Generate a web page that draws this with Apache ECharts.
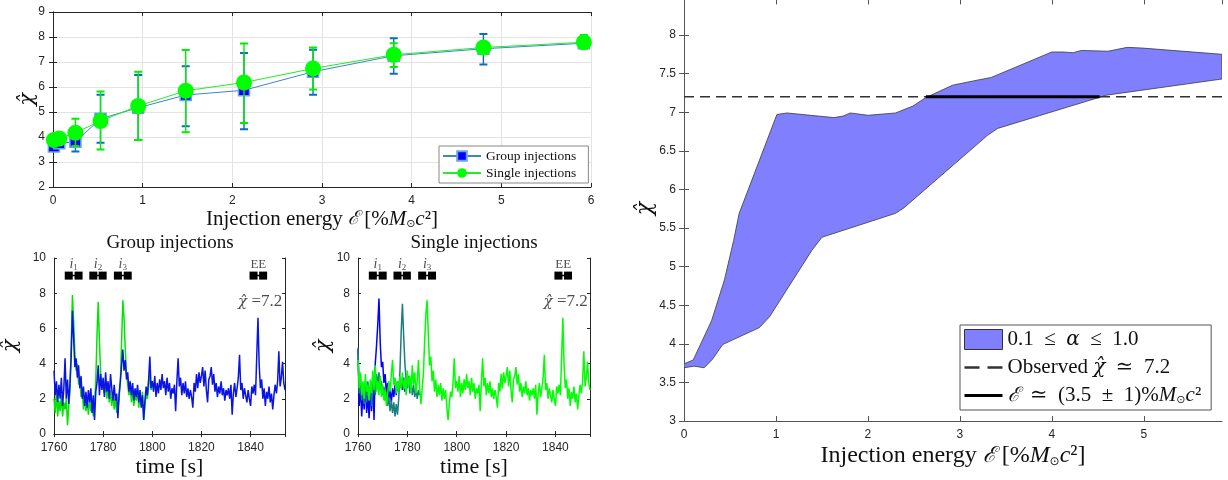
<!DOCTYPE html>
<html><head><meta charset="utf-8">
<script src="https://cdn.jsdelivr.net/npm/echarts@6/dist/echarts.min.js"></script>
<style>html,body{margin:0;padding:0;background:#fff}#c{width:1228px;height:480px}</style>
</head><body><div id="c"></div>
<script>
// ---------- Top-left panel: chi-hat vs injection energy ----------
const energy     = [0.01, 0.07, 0.25, 0.53, 0.95, 1.48, 2.13, 2.9, 3.8, 4.8, 5.92];
const groupMean  = [3.62, 3.75, 3.81, 4.73, 5.17, 5.68, 5.87, 6.61, 7.25, 7.53, 7.75];
const groupLow   = [3.45, 3.60, 3.42, 3.77, 3.88, 4.43, 4.31, 5.69, 6.53, 6.90, 7.55];
const groupHigh  = [3.80, 3.90, 4.20, 5.69, 6.48, 6.83, 7.36, 7.49, 7.95, 8.12, 7.95];
const singleMean = [3.88, 3.94, 4.17, 4.64, 5.24, 5.85, 6.18, 6.74, 7.29, 7.58, 7.79];
const singleLow  = [3.75, 3.80, 3.64, 3.50, 3.88, 4.19, 4.56, 5.90, 6.80, 7.45, 7.55];
const singleHigh = [4.00, 4.05, 4.73, 5.82, 6.61, 7.48, 7.74, 7.58, 7.75, 7.70, 8.08];

// ---------- Bottom panels: time series (t0 = 1760 s, step 0.5 s) ----------
const tStart = 1760, tStep = 0.5;
const grpGreen = [
 2.0,1.2,2.4,1.0,1.9,1.3,2.2,1.0,1.8,1.4,
 2.0,0.5,1.6,2.4,5.0,7.9,6.4,4.6,3.6,4.0,
 2.8,3.2,2.1,2.6,1.4,2.2,1.3,1.9,1.1,2.0,
 1.3,1.8,1.0,1.6,3.0,5.6,7.5,5.2,3.4,2.6,
 3.1,2.3,2.9,2.0,2.7,1.8,2.5,1.6,2.3,1.4,
 2.1,1.2,1.4,2.0,3.0,5.2,7.6,6.6,4.8,3.4,
 2.8,2.2,2.9,1.8,2.5,1.6,2.3,1.9,2.6,1.5,
 2.2,1.7,2.4,0.8,1.6,2.3,2.0,2.7,3.4,2.5,
 2.9];
const grpBlue = [
 3.6,2.2,3.0,1.8,2.8,2.0,3.2,1.6,2.6,4.3,
 2.0,3.1,1.7,2.9,4.4,7.0,5.4,3.8,4.3,3.2,
 3.9,2.6,3.3,2.0,2.7,1.6,2.4,1.5,2.5,1.8,
 2.6,1.2,2.2,0.8,2.4,2.9,3.9,2.2,3.4,2.5,
 3.2,2.1,3.5,2.4,3.0,2.0,3.4,2.6,1.9,2.8,
 1.9,2.3,0.9,2.3,3.0,3.9,4.8,3.6,4.2,3.1,
 3.5,2.4,3.0,2.2,2.9,1.9,2.6,2.1,2.8,1.8,
 2.5,1.5,2.2,0.8,1.9,2.7,2.2,3.1,4.4,2.6,
 3.0];
const sglBlue = [
 4.8,1.6,2.8,1.0,2.4,1.4,3.0,1.2,2.2,0.9,
 2.6,1.3,3.2,0.8,4.0,5.0,6.2,7.7,5.2,3.8,
 4.1,2.9,3.4,2.3,2.9,2.0,2.5,1.8,2.6,2.1,
 2.8,2.2,3.0,2.4,2.7,3.1,2.5,3.2,2.4,2.9,
 2.6];
const sglTeal = [
 4.9,2.3,3.3,1.9,2.9,1.7,2.6,1.8,3.0,2.0,
 2.7,1.6,2.5,3.1,2.2,3.4,2.8,3.5,2.5,3.0,
 2.2,2.7,1.9,2.4,1.6,2.1,1.3,1.9,1.2,1.8,
 1.0,1.7,1.1,2.0,3.6,5.8,7.4,5.6,4.0,3.1,
 2.6,3.3,2.3,2.9,2.2,2.8,2.1,2.6,2.0,2.5,
 2.2];
const sglGreen = [
 4.2,2.6,3.5,2.2,3.0,2.0,3.4,2.4,2.8,1.9,
 3.1,2.3,3.6,2.5,3.9,2.4,3.0,2.2,3.3,2.1,
 2.8,1.9,2.5,1.6,2.3,3.0,2.4,3.4,4.2,2.8,
 3.2,2.3,3.0,2.4,3.3,2.6,3.5,2.5,3.1,2.2,
 3.6,2.7,3.3,2.4,3.9,2.8,3.5,2.3,3.0,4.2,
 2.6,1.7,2.6,3.4,5.3,6.8,7.6,5.6,3.9,4.4,
 3.0,3.6,2.4,3.1,2.1,2.8,2.2,2.9,1.9,2.6,
 2.0,2.5,1.5,0.8,1.7,2.4,2.1,2.9,4.3,2.6,
 3.0];
// common trace after 1800 s (t = 1800.5 ... 1854), top layer in both panels
const lateTrace = [
 2.4,3.3,2.1,2.9,2.3,3.1,2.5,3.4,2.6,3.0,
 2.2,3.2,2.4,2.9,2.0,2.6,2.3,2.8,1.3,3.0,
 4.3,2.7,3.2,2.2,2.9,2.3,3.0,2.1,2.6,2.0,
 2.5,2.1,1.5,2.9,2.4,3.4,2.6,3.5,2.9,3.3,
 3.8,2.7,3.6,2.5,1.8,3.1,3.3,3.8,2.8,3.4,
 2.4,2.9,2.1,2.7,2.3,3.0,2.2,2.6,1.9,2.5,
 2.2,2.6,2.0,2.8,1.1,2.3,2.9,2.1,2.6,3.2,
 4.5,2.5,2.9,2.0,2.6,2.2,1.8,2.5,2.0,1.6,
 2.7,2.3,2.8,2.2,4.4,6.6,3.9,2.6,3.1,2.0,
 2.6,1.6,2.4,2.0,2.7,1.8,2.3,1.4,2.2,2.8,
 2.3,3.0,4.7,2.7,3.2,4.1,2.9,2.5];
// injection markers
const injNames = ['i1', 'i2', 'i3', 'EE'];
const injStart = [1766, 1776, 1786, 1841.2];
const injEnd   = [1770, 1779.8, 1790, 1845.1];
const injLevel = 9;
const chiObsText = 'χ̂ =7.2';

// ---------- Right panel: band 0.1 <= alpha <= 1.0 ----------
const bandUpperE   = [0, 0.1, 0.3, 0.44, 0.54, 0.6, 1.01, 1.12, 1.63, 1.73, 1.81, 2.0, 2.3, 2.49, 2.63, 2.92, 3.21, 3.34, 4.0, 4.12, 4.23, 4.32, 4.61, 4.82, 4.99, 5.85];
const bandUpperChi = [3.74, 3.79, 4.3, 4.83, 5.34, 5.69, 6.97, 6.99, 6.93, 6.95, 6.99, 6.96, 6.99, 7.08, 7.19, 7.35, 7.42, 7.45, 7.78, 7.78, 7.77, 7.80, 7.79, 7.84, 7.83, 7.75];
const bandLowerE   = [0, 0.11, 0.22, 0.31, 0.42, 0.82, 0.93, 1.39, 1.5, 2.3, 2.39, 3.3, 3.41, 4.51, 4.59, 5.85];
const bandLowerChi = [3.69, 3.71, 3.69, 3.80, 3.99, 4.21, 4.35, 5.21, 5.38, 5.69, 5.76, 6.70, 6.79, 7.19, 7.22, 7.43];
const observedChi = 7.2;
const energyRange = [2.63, 4.52];
const legendBand = '0.1 ≤ α ≤ 1.0';
const legendObs = 'Observed χ̂ ≃ 7.2';
const legendRange = 'ℰ ≃ (3.5 ± 1)%M⊙c²';

// ---------- build ----------
const AX = '#262626', AX2 = '#555';
const SERIF = 'Liberation Serif, DejaVu Serif, serif';
const MATH = 'DejaVu Serif';
const SANS = 'Liberation Sans, Arial, sans-serif';
const toPairs = (arr, off) => arr.map((v, i) => [tStart + (off + i) * tStep, v]);
const nameRich = (fs) => ({
  n: {fontFamily: SERIF, fontSize: fs, color: '#111'},
  it: {fontFamily: SERIF, fontSize: fs, fontStyle: 'italic', color: '#111'},
  sc: {fontFamily: MATH, fontSize: fs - 2, fontStyle: 'italic', color: '#111'},
  c: {fontFamily: MATH, fontSize: fs - 1, fontStyle: 'italic', color: '#111'},
  sub: {fontFamily: 'DejaVu Sans', fontSize: Math.round(fs * 0.5), color: '#111', padding: [Math.round(fs*0.45), 0, 0, 0]}
});
const energyName = '{n|Injection energy }{sc|ℰ}{n| [%}{it|M}{sub|⊙}{it|c}{n|²]}';
const chiName = '{c|χ̂}';
const plainNum = v => String(v);

function valAxis(o) {
  return Object.assign({
    type: 'value', nameMoveOverlap: false,
    axisLine: {show: true, lineStyle: {color: AX, width: 1}},
    axisTick: {show: true, inside: true, length: 4, lineStyle: {color: AX}},
    axisLabel: {show: true, color: AX, fontFamily: SANS, fontSize: 12, formatter: plainNum},
    splitLine: {show: false}
  }, o);
}
function mirror(o) {
  return valAxis(Object.assign({axisLabel: {show: false}}, o));
}
function errRender(color) {
  return function (params, api) {
    const x = api.value(0), lo = api.value(1), hi = api.value(2);
    const p1 = api.coord([x, lo]), p2 = api.coord([x, hi]);
    const hw = 4;
    const st = {stroke: color, lineWidth: 1.4};
    return {type: 'group', children: [
      {type: 'line', shape: {x1: p1[0], y1: p1[1], x2: p2[0], y2: p2[1]}, style: st},
      {type: 'line', shape: {x1: p1[0] - hw, y1: p1[1], x2: p1[0] + hw, y2: p1[1]}, style: {stroke: color, lineWidth: 2}},
      {type: 'line', shape: {x1: p2[0] - hw, y1: p2[1], x2: p2[0] + hw, y2: p2[1]}, style: {stroke: color, lineWidth: 2}}
    ]};
  };
}

const grids = [
  {left: 53, top: 12, width: 538, height: 175, outerBoundsMode: 'none'},
  {left: 54, top: 258, width: 231, height: 176, outerBoundsMode: 'none'},
  {left: 358, top: 258, width: 232, height: 176, outerBoundsMode: 'none'},
  {left: 684, top: -3.6, width: 538, height: 424.6, outerBoundsMode: 'none'}
];
const tsX = {min: 1760, max: 1854, interval: 20};
const tsTick = {show: true, inside: true, length: 3, lineStyle: {color: AX}};
const tsLabel = {color: AX, fontFamily: SANS, fontSize: 12, showMaxLabel: false, formatter: plainNum};
const xAxes = [
  valAxis({gridIndex: 0, min: 0, max: 6, interval: 1,
    splitLine: {show: true, lineStyle: {color: '#e3e3e3'}},
    name: energyName, nameLocation: 'middle', nameGap: 22, nameTextStyle: {rich: nameRich(21)}}),
  mirror({gridIndex: 0, position: 'top', min: 0, max: 6, interval: 1}),
  valAxis(Object.assign({gridIndex: 1, axisTick: tsTick, axisLabel: tsLabel,
    name: 'time [s]', nameLocation: 'middle', nameGap: 22, nameTextStyle: {fontFamily: SERIF, fontSize: 22, color: '#111'}}, tsX)),
  mirror(Object.assign({gridIndex: 1, position: 'top', axisTick: tsTick}, tsX)),
  valAxis(Object.assign({gridIndex: 2, axisTick: tsTick, axisLabel: tsLabel,
    name: 'time [s]', nameLocation: 'middle', nameGap: 22, nameTextStyle: {fontFamily: SERIF, fontSize: 22, color: '#111'}}, tsX)),
  mirror(Object.assign({gridIndex: 2, position: 'top', axisTick: tsTick}, tsX)),
  valAxis({gridIndex: 3, min: 0, max: 5.85, interval: 1,
    axisLine: {show: true, lineStyle: {color: AX2}}, axisTick: {show: true, inside: true, length: 5, lineStyle: {color: AX2}},
    axisLabel: {color: AX, fontFamily: SANS, fontSize: 12, showMaxLabel: false, formatter: plainNum},
    name: energyName, nameLocation: 'middle', nameGap: 23, nameTextStyle: {rich: nameRich(24)}}),
  mirror({gridIndex: 3, position: 'top', min: 0, max: 5.85, interval: 1,
    axisLine: {show: false}, axisTick: {show: true, inside: true, length: 8, lineStyle: {color: AX2}}})
];
const yAxes = [
  valAxis({gridIndex: 0, min: 2, max: 9, interval: 1,
    splitLine: {show: true, lineStyle: {color: '#e3e3e3'}},
    name: chiName, nameLocation: 'middle', nameGap: 15, nameTextStyle: {rich: nameRich(22)}}),
  mirror({gridIndex: 0, position: 'right', min: 2, max: 9, interval: 1}),
  valAxis({gridIndex: 1, min: 0, max: 10, interval: 2, axisTick: tsTick,
    name: chiName, nameLocation: 'middle', nameGap: 33, nameTextStyle: {rich: nameRich(22)}}),
  mirror({gridIndex: 1, position: 'right', min: 0, max: 10, interval: 2, axisTick: tsTick}),
  valAxis({gridIndex: 2, min: 0, max: 10, interval: 2, axisTick: tsTick,
    name: chiName, nameLocation: 'middle', nameGap: 24, nameTextStyle: {rich: nameRich(22)}}),
  mirror({gridIndex: 2, position: 'right', min: 0, max: 10, interval: 2, axisTick: tsTick}),
  valAxis({gridIndex: 3, min: 3, max: 8.5, interval: 0.5,
    axisLine: {show: true, lineStyle: {color: AX2}}, axisTick: {show: true, inside: true, length: 5, lineStyle: {color: AX2}},
    name: chiName, nameLocation: 'middle', nameGap: 28, nameTextStyle: {rich: nameRich(23)}}),
  mirror({gridIndex: 3, position: 'right', min: 3, max: 8.5, interval: 0.5,
    axisLine: {show: true, lineStyle: {color: AX2}}, axisTick: {show: true, inside: true, length: 5, lineStyle: {color: AX2}}})
];

const series = [];
// top-left
series.push({type: 'custom', xAxisIndex: 0, yAxisIndex: 0, renderItem: errRender('#0a6ebd'),
  encode: {x: 0, y: [1, 2]}, data: energy.map((e, i) => [e, groupLow[i], groupHigh[i]]), z: 2});
series.push({type: 'line', name: 'Group injections', xAxisIndex: 0, yAxisIndex: 0,
  data: energy.map((e, i) => [e, groupMean[i]]), symbol: 'rect', symbolSize: 11,
  lineStyle: {color: '#3d86cc', width: 1}, itemStyle: {color: '#0000ff', borderColor: '#6aa6dd', borderWidth: 1.5}, z: 3});
series.push({type: 'custom', xAxisIndex: 0, yAxisIndex: 0, renderItem: errRender('#00ee00'),
  encode: {x: 0, y: [1, 2]}, data: energy.map((e, i) => [e, singleLow[i], singleHigh[i]]), z: 4});
series.push({type: 'line', name: 'Single injections', xAxisIndex: 0, yAxisIndex: 0,
  data: energy.map((e, i) => [e, singleMean[i]]), symbol: 'circle', symbolSize: 16,
  lineStyle: {color: '#22ee22', width: 1}, itemStyle: {color: '#00ff00'}, z: 5});

// bottom panels
function ts(name, arr, color, xi, z) {
  return {type: 'line', name: name, xAxisIndex: xi, yAxisIndex: xi, data: toPairs(arr, 0),
    symbol: 'none', lineStyle: {color: color, width: 1.5}, z: z, silent: true};
}
series.push(ts('g-green', grpGreen, '#00e600', 2, 2));
series.push(ts('g-blue', grpBlue.concat(lateTrace), '#0a14e6', 2, 3));
series.push(ts('s-blue', sglBlue, '#0000ff', 4, 2));
series.push(ts('s-teal', sglTeal, '#1a7d80', 4, 3));
series.push(ts('s-green', sglGreen.concat(lateTrace), '#00ff00', 4, 4));

const labRich = {
  it: {fontFamily: SERIF, fontSize: 14, fontStyle: 'italic', color: '#222'},
  sub: {fontFamily: SERIF, fontSize: 9, color: '#222', padding: [6, 0, 0, 0]},
  n: {fontFamily: SERIF, fontSize: 13, color: '#222'},
  c: {fontFamily: MATH, fontSize: 15, fontStyle: 'italic', color: '#222'},
  v: {fontFamily: SERIF, fontSize: 17, color: '#222'}
};
[2, 4].forEach(function (xi) {
  for (let k = 0; k < injNames.length; k++) {
    series.push({type: 'line', xAxisIndex: xi, yAxisIndex: xi, data: [[injStart[k], injLevel], [injEnd[k], injLevel]],
      symbol: 'rect', symbolSize: 8, lineStyle: {color: '#000', width: 1.5}, itemStyle: {color: '#000'}, z: 6, silent: true});
  }
  series.push({type: 'scatter', xAxisIndex: xi, yAxisIndex: xi, symbolSize: 0, z: 6, silent: true,
    data: injNames.map((n, k) => ({value: [(injStart[k] + injEnd[k]) / 2, 9.62], name: n})),
    label: {show: true, position: 'inside', rich: labRich,
      formatter: p => p.name === 'EE' ? '{n|EE}' : '{it|i}{sub|' + p.name.slice(1) + '}'}});
  series.push({type: 'scatter', xAxisIndex: xi, yAxisIndex: xi, symbolSize: 0, z: 6, silent: true,
    data: [{value: [xi === 2 ? 1852.9 : 1853.1, 7.5], name: chiObsText}],
    label: {show: true, position: 'left', distance: 0, rich: labRich,
      formatter: p => '{c|' + p.name.split(' ')[0] + '}{v| ' + p.name.split(' ')[1] + '}'}});
});

// right panel
series.push({type: 'custom', name: legendBand, xAxisIndex: 6, yAxisIndex: 6, clip: true,
  itemStyle: {color: '#8080ff', borderColor: '#333', borderWidth: 1},
  data: [[0, bandLowerChi[0]]],
  renderItem: function (params, api) {
    const pts = [];
    for (let i = 0; i < bandUpperE.length; i++) pts.push(api.coord([bandUpperE[i], bandUpperChi[i]]));
    for (let i = bandLowerE.length - 1; i >= 0; i--) pts.push(api.coord([bandLowerE[i], bandLowerChi[i]]));
    return {type: 'polygon', shape: {points: pts}, style: {fill: '#8080ff', stroke: '#3a3a3a', lineWidth: 0.8}};
  }, z: 2});
series.push({type: 'line', name: legendObs, xAxisIndex: 6, yAxisIndex: 6,
  data: [[0, observedChi], [5.85, observedChi]], symbol: 'none', itemStyle: {color: '#333'},
  lineStyle: {color: '#333', width: 1.5, type: [10, 6]}, z: 3});
series.push({type: 'line', name: legendRange, xAxisIndex: 6, yAxisIndex: 6,
  data: [[energyRange[0], observedChi], [energyRange[1], observedChi]], symbol: 'none', itemStyle: {color: '#000'},
  lineStyle: {color: '#000', width: 3}, z: 4});

const E = '\u2002';
const legRich = {
  t: {fontFamily: SERIF, fontSize: 21, color: '#111'},
  i: {fontFamily: SERIF, fontSize: 21, fontStyle: 'italic', color: '#111'},
  c: {fontFamily: MATH, fontSize: 20, fontStyle: 'italic', color: '#111'},
  s: {fontFamily: 'DejaVu Sans', fontSize: 11, color: '#111', padding: [9, 0, 0, 0]}
};
function legFmt(name) {
  if (name === legendBand) return '{t|0.1' + E + '≤' + E + '}{c|α}{t|' + E + '≤' + E + '1.0}';
  if (name === legendObs) return '{t|Observed }{c|χ̂}{t|' + E + '≃' + E + '7.2}';
  if (name === legendRange) return '{c|ℰ}{t|' + E + '≃' + E + '(3.5' + E + '±' + E + '1)%}{i|M}{s|⊙}{i|c}{t|²}';
  return name;
}

const option = {
  animation: false,
  backgroundColor: '#fff',
  grid: grids,
  xAxis: xAxes,
  yAxis: yAxes,
  legend: [
    {data: ['Group injections', 'Single injections'], left: 439, top: 146, orient: 'vertical',
      itemWidth: 38, itemHeight: 12, itemGap: 3, padding: [3, 12, 3, 3], borderColor: '#888', borderWidth: 1,
      backgroundColor: '#fff', selectedMode: false,
      textStyle: {fontFamily: SERIF, fontSize: 13.5, color: '#111'}},
    {data: [
        {name: legendBand, icon: 'rect', itemStyle: {color: '#8080ff', borderColor: '#333', borderWidth: 1}},
        {name: legendObs, icon: 'path://M0,0h15v2.5h-15z M23,0h15v2.5h-15z', itemStyle: {color: '#333'}},
        {name: legendRange, icon: 'path://M0,0h38v3h-38z', itemStyle: {color: '#000'}}],
      left: 960, top: 325, orient: 'vertical', itemWidth: 38, itemHeight: 20, itemGap: 7, symbolKeepAspect: true,
      padding: [4, 10, 4, 4], borderColor: '#555', borderWidth: 1, backgroundColor: '#fff', selectedMode: false,
      formatter: legFmt, textStyle: {fontFamily: SERIF, fontSize: 21, color: '#111', rich: legRich}}
  ],
  graphic: [
    {type: 'text', x: 170, y: 243, style: {text: 'Group injections', align: 'center', verticalAlign: 'middle',
      fontFamily: SERIF, fontSize: 19, fill: '#111'}},
    {type: 'text', x: 474, y: 243, style: {text: 'Single injections', align: 'center', verticalAlign: 'middle',
      fontFamily: SERIF, fontSize: 19, fill: '#111'}}
  ],
  series: series
};
const chart = echarts.init(document.getElementById('c'), null, {renderer: 'canvas'});
chart.setOption(option);
</script>
</body></html>
